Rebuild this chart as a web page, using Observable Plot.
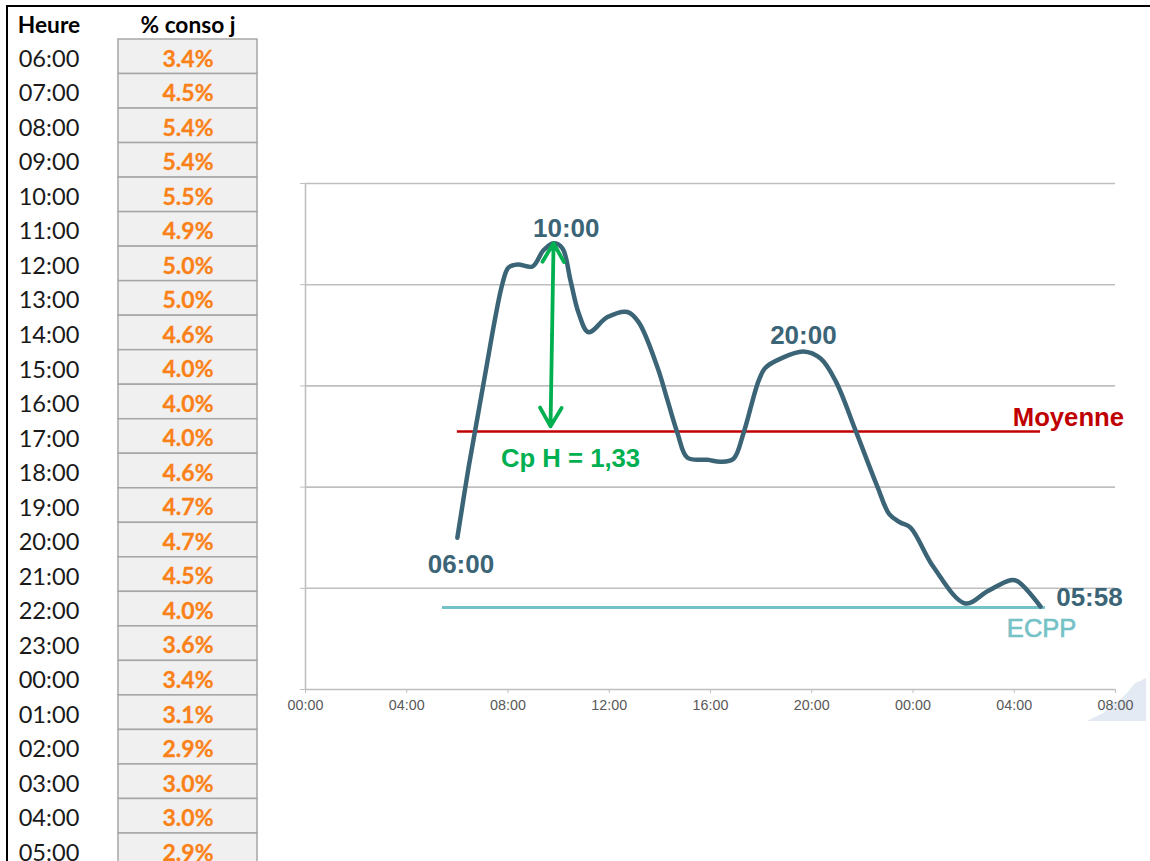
<!DOCTYPE html>
<html><head><meta charset="utf-8">
<script src="https://cdn.jsdelivr.net/npm/d3@7"></script>
<script src="https://cdn.jsdelivr.net/npm/@observablehq/plot@0.6"></script>
<style>
html,body{margin:0;padding:0;background:#fff;overflow:hidden;width:1150px;height:861px}
#frame{position:absolute;left:6px;top:5px;right:0;bottom:0;border-left:2px solid #000;border-top:2px solid #000;pointer-events:none}
#chart,#table{position:absolute;left:0;top:0}
svg{display:block;background:transparent !important}
</style></head><body>
<div id="chart"></div><div id="table"></div><div id="frame"></div>
<script>
const hours=["06:00","07:00","08:00","09:00","10:00","11:00","12:00","13:00","14:00","15:00","16:00","17:00","18:00","19:00","20:00","21:00","22:00","23:00","00:00","01:00","02:00","03:00","04:00","05:00"];
const shares=[3.4,4.5,5.4,5.4,5.5,4.9,5.0,5.0,4.6,4.0,4.0,4.0,4.6,4.7,4.7,4.5,4.0,3.6,3.4,3.1,2.9,3.0,3.0,2.9];
const columns=["Heure","% conso j"];
const curveHours=[6,6.44,7.03,7.78,8.02,8.38,8.97,9.4,9.8,10.15,10.47,10.79,11.18,11.93,12.72,13.16,13.91,14.3,14.7,15.09,15.88,16.4,16.91,17.3,17.9,18.17,18.77,19.67,20.35,20.94,21.73,22.6,23.07,23.5,23.9,24.81,26.07,26.94,27.85,28.13,29.04];
const curveValues=[1.5,2.19,3.02,4.01,4.17,4.2,4.18,4.34,4.41,4.36,4.04,3.72,3.53,3.68,3.73,3.63,3.18,2.86,2.53,2.29,2.27,2.25,2.28,2.53,3.05,3.18,3.27,3.34,3.27,3.05,2.56,2,1.73,1.65,1.6,1.21,.85,.97,1.08,1.07,.82];
const mapHours=[30.89,31.53,31.7,31.88,32.2,32.35,32.51,32.79,33.0,33.23];
const mapValues=[-.316,-.237,-.2,-.138,-.109,-.07,-.03,.06,.08,.11];
const mapBase=-.316;
const gridValues=[0,1,2,3,4,5];
const axisHours=[0,4,8,12,16,20,24,28,32];
const moyenne={value:2.55,from:6,to:29.04};
const ecpp={value:.81,from:5.41,to:29.23};
const arrowEnds={top:[9.8,4.41],mid:[9.74,3.5],bottom:[9.68,2.6]};
const timeLabels=[{t:"10:00",x:10.3,y:4.555},{t:"20:00",x:19.67,y:3.5},{t:"06:00",x:6.14,y:1.235},{t:"05:58",x:30.97,y:.91}];
const pad=n=>String(n%24).padStart(2,"0")+":00";
const curve=curveHours.map((h,i)=>({h,v:curveValues[i]}));
const map=mapHours.map((h,i)=>({h,v:mapValues[i]}));
const AR="'Liberation Sans',Arial,sans-serif";
const lineCol="#3b6577",green="#00b050",red="#c00000",teal="#74c1c6",grid="#bfbfbf";

document.getElementById("chart").append(Plot.plot({
  width:1150,height:861,marginLeft:305,marginRight:35,marginTop:183,marginBottom:172,
  style:{fontFamily:AR,background:"transparent"},
  x:{domain:[0,32]},y:{domain:[0,5]},
  marks:[
    Plot.areaY(map,{x:"h",y1:mapBase,y2:"v",fill:"#e4eaf3"}),
    Plot.ruleY(gridValues,{stroke:grid,strokeWidth:1.6}),
    Plot.axisY({ticks:gridValues,tickFormat:()=>"",tickSize:5,stroke:grid,strokeOpacity:1,label:null}),
    Plot.ruleX([0],{stroke:grid,strokeWidth:1.6}),
    Plot.axisX({ticks:axisHours,tickFormat:pad,tickSize:4,tickPadding:6,stroke:grid,strokeOpacity:1,fontSize:14.3,color:"#595959",label:null}),
    Plot.ruleY([ecpp],{y:"value",x1:"from",x2:"to",stroke:teal,strokeWidth:3}),
    Plot.ruleY([moyenne],{y:"value",x1:"from",x2:"to",stroke:red,strokeWidth:2.5}),
    Plot.line(curve,{x:"h",y:"v",curve:"catmull-rom",stroke:lineCol,strokeWidth:4.5}),
    Plot.arrow([{a:arrowEnds.mid,b:arrowEnds.top},{a:arrowEnds.mid,b:arrowEnds.bottom}],{
      x1:d=>d.a[0],y1:d=>d.a[1],x2:d=>d.b[0],y2:d=>d.b[1],stroke:green,strokeWidth:3.8,headLength:8.5,headAngle:60,inset:0}),
    Plot.text(timeLabels,{x:"x",y:"y",text:"t",fontSize:26,fontWeight:"bold",fill:lineCol}),
    Plot.text(["Moyenne"],{x:[30.14],y:[2.69],fontSize:25.7,fontWeight:"bold",fill:red}),
    Plot.text(["ECPP"],{x:[29.08],y:[.6],fontSize:25.5,fill:teal,stroke:teal,strokeWidth:.6}),
    Plot.text(["Cp H = 1,33"],{x:[10.47],y:[2.28],fontSize:25.7,fontWeight:"bold",fill:green})
  ]
}));

const rows=hours.map((h,i)=>({h,s:shares[i]}));
document.getElementById("table").append(Plot.plot({
  width:290,height:861,margin:0,marginTop:39,
  style:{fontFamily:"Lato,sans-serif",background:"transparent"},
  x:{type:"band",domain:columns,range:[-21,257],padding:0,round:false,axis:null},
  y:{type:"band",domain:hours,range:[39,867.5],padding:0,round:false,axis:null},
  marks:[
    Plot.axisX({anchor:"top",tickSize:0,tickPadding:7,fontSize:22.7,fontWeight:"bold",color:"#000",label:null}),
    Plot.cell(rows,{x:()=>columns[1],y:"h",fill:"#f0f0f0",stroke:"#a6a6a6",strokeWidth:1.5}),
    Plot.text(rows,{x:()=>columns[0],y:"h",text:"h",dy:2.5,fontSize:23.6,fill:"#1a1a1a"}),
    Plot.text(rows,{x:()=>columns[1],y:"h",text:d=>d.s.toFixed(1)+"%",dy:2.5,fontSize:23,fontWeight:"bold",fill:"#fa8118",stroke:"#fa8118",strokeWidth:.3})
  ]
}));
</script></body></html>
